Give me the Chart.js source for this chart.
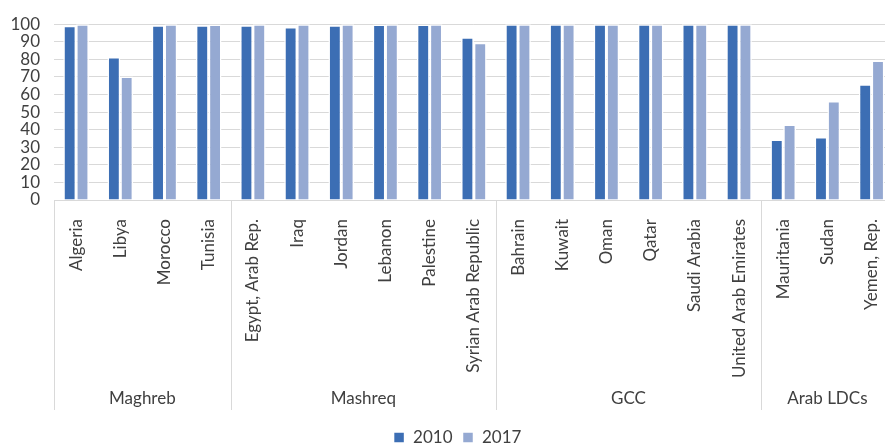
<!DOCTYPE html>
<html>
<head>
<meta charset="utf-8">
<script src="https://cdn.jsdelivr.net/npm/chart.js@4"></script>
<style>
  html, body { margin: 0; padding: 0; background: #fff; overflow: hidden; }
  #wrap { width: 911px; height: 447px; }
</style>
</head>
<body>
<div id="wrap"><canvas id="access_chart" width="911" height="447"></canvas></div>
<script>
const countries = ['Algeria', 'Libya', 'Morocco', 'Tunisia',
    'Egypt, Arab Rep.', 'Iraq', 'Jordan', 'Lebanon', 'Palestine', 'Syrian Arab Republic',
    'Bahrain', 'Kuwait', 'Oman', 'Qatar', 'Saudi Arabia', 'United Arab Emirates',
    'Mauritania', 'Sudan', 'Yemen, Rep.']
const values2010 = [99.1, 81.3, 99.4, 99.4, 99.4, 98.4, 99.4, 99.8, 99.8, 92.6,
    100, 100, 100, 100, 100, 100, 34.4, 35.9, 65.9]
const values2017 = [100, 70.2, 100, 99.8, 100, 100, 100, 100, 100, 89.4,
    100, 100, 100, 100, 100, 100, 43.0, 56.3, 79.3]
const groupNames = ['Maghreb', 'Mashreq', 'GCC', 'Arab LDCs']
const groupSizes = [4, 6, 6, 3]
const yTicks = [0, 10, 20, 30, 40, 50, 60, 70, 80, 90, 100]

// group centres and boundaries in category-index units
let groupCenters = []
let groupEdges = [-0.5]
let start = 0
groupSizes.forEach(n => {
    groupCenters.push(start + (n - 1) / 2)
    start += n
    groupEdges.push(start - 0.5)
})

const textColor = '#404040'
const lineColor = '#d9d9d9'
const font = { family: 'Lato', size: 17 }

// second row of the category axis: group names and separators
const groupRow = {
    id: 'groupRow',
    afterLayout(chart) {
        chart.legend.left += 2
        chart.legend.right += 2
        chart.legend.top += 9
        chart.legend.bottom += 9
    },
    afterDraw(chart) {
        const x = chart.scales.x
        const ctx = chart.ctx
        const bottom = x.bottom
        ctx.save()
        ctx.strokeStyle = lineColor
        ctx.lineWidth = 1
        groupEdges.forEach(e => {
            const px = Math.round(x.getPixelForValue(e)) + 0.5
            if (px > chart.width) return
            ctx.beginPath()
            ctx.moveTo(px, chart.chartArea.bottom)
            ctx.lineTo(px, bottom)
            ctx.stroke()
        })
        ctx.fillStyle = textColor
        ctx.font = font.size + 'px ' + font.family
        ctx.textAlign = 'center'
        ctx.textBaseline = 'middle'
        groupNames.forEach((name, i) => {
            ctx.fillText(name, x.getPixelForValue(groupCenters[i]), bottom - 11)
        })
        ctx.restore()
    }
}

window.onload = function () {
    let context = document.querySelector('#access_chart').getContext('2d')
    new Chart(context, {
        type: 'bar',
        data: {
            labels: countries,
            datasets: [{
                label: '2010',
                data: values2010,
                backgroundColor: '#3c6eb4',
                borderColor: '#ffffff',
                borderWidth: 1.5,
                borderSkipped: 'bottom',
            }, {
                label: '2017',
                data: values2017,
                backgroundColor: '#95a9d2',
                borderColor: '#ffffff',
                borderWidth: 1.5,
                borderSkipped: 'bottom',
            }],
        },
        options: {
            responsive: false,
            animation: false,
            layout: { padding: { top: 2, right: 0, left: 0, bottom: 0 } },
            datasets: { bar: { categoryPercentage: 0.58, barPercentage: 1 } },
            plugins: {
                legend: {
                    position: 'bottom',
                    labels: {
                        color: textColor,
                        font: font,
                        boxWidth: 11,
                        boxHeight: 11,
                        padding: 10,
                    }
                },
                tooltip: { enabled: false },
            },
            scales: {
                y: {
                    min: 0,
                    max: 100,
                    afterBuildTicks: s => { s.ticks = yTicks.map(v => ({ value: v })) },
                    afterFit: s => { s.width = 54 },
                    ticks: { color: textColor, font: font, padding: 14, autoSkip: false },
                    grid: { color: lineColor, drawTicks: false },
                    border: { display: false },
                },
                x: {
                    afterFit: s => { s.height = 210 },
                    ticks: {
                        color: textColor, font: { family: 'Lato', size: 17 }, padding: 19,
                        minRotation: 90, maxRotation: 90, autoSkip: false,
                    },
                    grid: { display: false, drawTicks: false },
                    border: { display: true, color: lineColor },
                },
            },
        },
        plugins: [groupRow],
    })
}
</script>
</body>
</html>
